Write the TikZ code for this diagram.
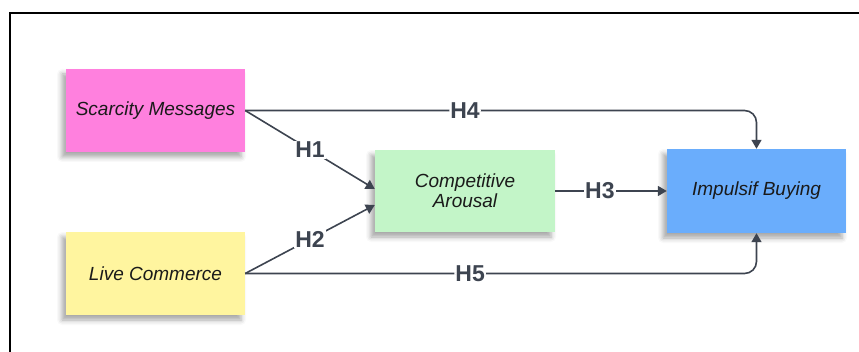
\documentclass[tikz,border=0pt]{standalone}
\usepackage{fontspec}
\setmainfont{Liberation Sans}
\usetikzlibrary{arrows.meta,shadows.blur}

\definecolor{pinkbox}{HTML}{FF80DE}
\definecolor{yellowbox}{HTML}{FFF59F}
\definecolor{greenbox}{HTML}{C3F5C8}
\definecolor{bluebox}{HTML}{6AADFC}
\definecolor{linegrey}{HTML}{3D4450}
\definecolor{textdark}{HTML}{1A1A1A}

\tikzset{
  box/.style={rectangle, draw=none, minimum width=179pt, minimum height=83pt,
    align=center, text=textdark, font=\itshape\fontsize{19}{20}\selectfont,
    blur shadow={shadow xshift=-4pt, shadow yshift=-5pt, shadow blur radius=5pt,
      shadow opacity=35}},
  conn/.style={draw=linegrey, line width=1.6pt,
    -{Triangle[width=10pt,length=9pt]}},
  lbl/.style={fill=white, inner sep=1pt, text=linegrey,
    font=\bfseries\fontsize{23}{24}\selectfont},
  frame/.style={line width=2pt, black}
}

\begin{document}
\begin{tikzpicture}[x=1pt, y=-1pt]
\useasboundingbox (0,0) rectangle (859,352);

% partial frame: top and left edges
\coordinate (fl) at (10,352);
\coordinate (fc) at (10,13);
\coordinate (fr) at (859,13);
\draw[frame] (fl) -- (fc) -- (fr);

% constructs
\node[box, fill=pinkbox]   (sm) at (155.5,110.5) {Scarcity Messages};
\node[box, fill=yellowbox] (lc) at (155.5,273.5) {Live Commerce};
\node[box, fill=greenbox, minimum width=180pt, minimum height=82pt]
  (ca) at (465,191) {Competitive\\Arousal};
\node[box, fill=bluebox, minimum height=84pt]
  (ib) at (756.5,191) {Impulsif Buying};

% hypotheses
\draw[conn] (sm.east) -- node[lbl, pos=0.5] {H1} ([yshift=2pt]ca.west);
\draw[conn] (lc.east) -- node[lbl, pos=0.5] {H2} ([yshift=-14pt]ca.west);
\draw[conn] (ca.east) -- node[lbl, pos=0.4] {H3} (ib.west);
\draw[conn, rounded corners=12pt] (sm.east) -- node[lbl, pos=0.43] {H4}
  (ib.north |- sm.east) -- (ib.north);
\draw[conn, rounded corners=12pt] (lc.east) -- node[lbl, pos=0.44] {H5}
  (ib.south |- lc.east) -- (ib.south);
\end{tikzpicture}
\end{document}
